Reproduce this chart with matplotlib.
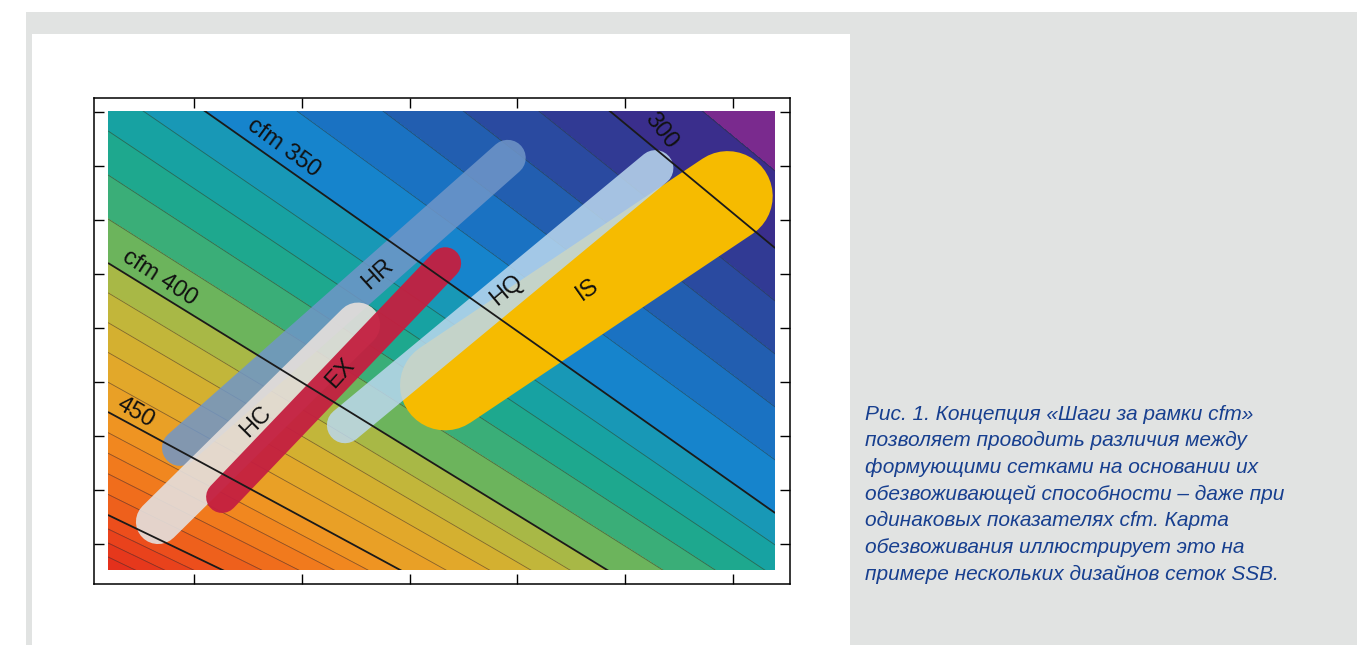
import numpy as np
import matplotlib
matplotlib.use('Agg')
import matplotlib.pyplot as plt
from matplotlib.patches import Rectangle

plt.rcParams['font.family'] = ['Liberation Sans', 'DejaVu Sans']

# cfm lines: height of each line at three x positions
line_x = [0.202, 3.29, 6.391]
line_cfm = [250, 300, 350, 400, 450, 500, 550]
line_y = [
    [25.9, 18.6, 13.6],
    [16.74, 11.61, 6.48],
    [10.28, 5.94, 1.574],
    [6.204, 2.407, -1.389],
    [3.444, 0.111, -3.222],
    [1.537, -1.426, -4.389],
    [0.241, -2.72, -5.69],
]
# extent of the coloured map
map_x = [0.202, 6.391]
map_y = [0.519, 9.02]

levels = list(range(280, 550, 10))
major_levels = [300, 350, 400, 450, 500]
band_colors = ['#7a2a8e', '#3a2e8c', '#313a94', '#2a4aa0', '#225eb0', '#1a72c2',
               '#1684cc', '#1898b6', '#17a2a2', '#1ea88e', '#3aae78', '#6cb45c',
               '#a8b846', '#c2b63a', '#d4b030', '#e2a82a', '#e9a026', '#ef9422',
               '#f1871f', '#f17a1d', '#f06d1c', '#ee601c', '#ec4e1c', '#e9421c',
               '#e6381c', '#e4301c']

# contour labels
cfm_labels = ['300', 'cfm 350', 'cfm 400', '450']
cfm_label_x = [5.33, 1.83, 0.68, 0.46]
cfm_label_y = [8.65, 8.33, 5.93, 3.44]
cfm_label_rot = [-52, -36, -33, -30]

# screen designs: capsule end points, width (pt), colour
designs = ['HR', 'HC', 'EX', 'IS', 'HQ']
x0 = [0.87, 0.667, 1.26, 3.33, 2.40]
y0 = [2.78, 1.41, 1.87, 3.94, 3.20]
x1 = [3.91, 2.52, 3.33, 5.95, 5.28]
y1 = [8.15, 5.06, 6.20, 7.44, 7.96]
widths = [26, 32, 23, 65, 26]
colors = ['#7096c8', '#e4dedb', '#c41f40', '#f6bb00', '#bcd8ee']
alphas = [0.85, 0.92, 0.95, 1.0, 0.85]
label_x = [2.70, 1.57, 2.36, 4.65, 3.90]
label_y = [6.00, 3.26, 4.17, 5.70, 5.70]
label_rot = [42, 45, 48, 35, 40]

caption = ['Рис. 1. Концепция «Шаги за рамки cfm»',
           'позволяет проводить различия между',
           'формующими сетками на основании их',
           'обезвоживающей способности – даже при',
           'одинаковых показателях cfm. Карта',
           'обезвоживания иллюстрирует это на',
           'примере нескольких дизайнов сеток SSB.']

fig = plt.figure(figsize=(13.57, 6.45), dpi=100)
fig.patch.set_facecolor('white')
fig.patches.append(Rectangle((26 / 1357, 0), 1, 633 / 645, transform=fig.transFigure,
                             facecolor='#e1e3e2', edgecolor='none', zorder=-2))
fig.patches.append(Rectangle((32 / 1357, 0), 818 / 1357, 611 / 645, transform=fig.transFigure,
                             facecolor='white', edgecolor='none', zorder=-1))

ax = fig.add_axes([94 / 1357, 61 / 645, 696 / 1357, 486 / 645])
ax.set_zorder(1)

# curvilinear grid: each row is one cfm line
X = np.array([line_x] * len(line_cfm))
Y = np.array(line_y)
Z = np.array([[v] * len(line_x) for v in line_cfm])
clip = Rectangle((map_x[0], map_y[0]), map_x[1] - map_x[0], map_y[1] - map_y[0],
                 transform=ax.transData, facecolor='none', edgecolor='none')
ax.add_patch(clip)

cf = ax.contourf(X, Y, Z, levels=levels, colors=band_colors, zorder=1)
cf.set_clip_path(clip)
minor = [l for l in levels if l not in major_levels]
cl = ax.contour(X, Y, Z, levels=minor, colors='#303030', linewidths=0.6, alpha=0.55, zorder=1.5)
cl.set_clip_path(clip)

for i in range(len(designs)):
    ax.plot([x0[i], x1[i]], [y0[i], y1[i]], color=colors[i], alpha=alphas[i],
            lw=widths[i], solid_capstyle='round', zorder=2 + i * 0.1)
    ax.text(label_x[i], label_y[i], designs[i], rotation=label_rot[i], fontsize=17,
            ha='center', va='center', rotation_mode='anchor', color='#111111', zorder=5)

cm = ax.contour(X, Y, Z, levels=major_levels, colors='#1a1a1a', linewidths=1.3, zorder=4)
cm.set_clip_path(clip)
for i in range(len(cfm_labels)):
    ax.text(cfm_label_x[i], cfm_label_y[i], cfm_labels[i], rotation=cfm_label_rot[i],
            fontsize=17, ha='center', va='center', rotation_mode='anchor',
            color='#111111', zorder=5)

ax.set_xlim(0.072, 6.529)
ax.set_ylim(0.259, 9.259)
ax.set_xticks(range(1, 7))
ax.set_yticks(range(1, 10))
ax.tick_params(direction='in', top=True, right=True, labelbottom=False, labelleft=False,
               length=7, width=1)
for s in ax.spines.values():
    s.set_linewidth(1.1)

for k, line in enumerate(caption):
    fig.text(865 / 1357, (645 - 414 - 26.7 * k) / 645, line, color='#173f8f',
             style='italic', fontsize=15, ha='left', va='center')

fig.savefig('out.png', dpi=100)
